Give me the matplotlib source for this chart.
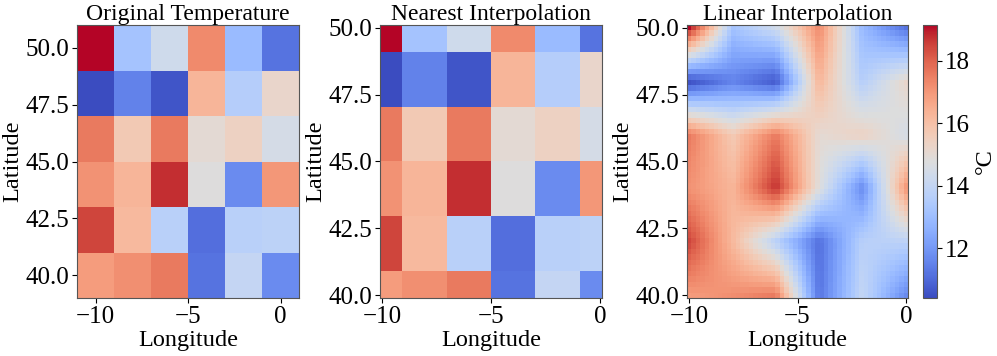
import numpy as np
import matplotlib
matplotlib.use("Agg")
import matplotlib.pyplot as plt

plt.rcParams['font.family'] = ['Liberation Serif', 'DejaVu Serif']

lons = np.array([-10, -8, -6, -4, -2, 0])
lats = np.array([40, 42, 44, 46, 48, 50])
# rows from lat 40 (bottom) to lat 50 (top)
temp_lat40 = [16.9, 17.2, 17.6, 11.2, 14.0, 11.7]
temp_lat42 = [18.5, 16.2, 13.7, 11.1, 13.7, 13.8]
temp_lat44 = [17.1, 16.3, 18.8, 14.8, 11.7, 17.0]
temp_lat46 = [17.6, 15.7, 17.6, 15.0, 15.4, 14.5]
temp_lat48 = [10.4, 11.5, 10.6, 16.3, 13.6, 15.2]
temp_lat50 = [19.15, 13.2, 14.3, 17.3, 12.9, 11.2]
temps = np.array([temp_lat40, temp_lat42, temp_lat44, temp_lat46, temp_lat48, temp_lat50])

titles = ['Original Temperature', 'Nearest Interpolation', 'Linear Interpolation']

n_fine = 50
flon = np.linspace(lons.min(), lons.max(), n_fine)
flat = np.linspace(lats.min(), lats.max(), n_fine)

# nearest
ix = np.abs(flon[:, None] - lons[None, :]).argmin(axis=1)
iy = np.abs(flat[:, None] - lats[None, :]).argmin(axis=1)
nearest = temps[iy][:, ix]

# bilinear
def bilinear(xg, yg, z, xq, yq):
    i = np.clip(np.searchsorted(xg, xq) - 1, 0, len(xg) - 2)
    j = np.clip(np.searchsorted(yg, yq) - 1, 0, len(yg) - 2)
    tx = (xq - xg[i]) / (xg[i + 1] - xg[i])
    ty = (yq - yg[j]) / (yg[j + 1] - yg[j])
    out = np.empty((len(yq), len(xq)))
    for a in range(len(yq)):
        for b in range(len(xq)):
            z00 = z[j[a], i[b]]; z01 = z[j[a], i[b] + 1]
            z10 = z[j[a] + 1, i[b]]; z11 = z[j[a] + 1, i[b] + 1]
            out[a, b] = (z00 * (1 - tx[b]) * (1 - ty[a]) + z01 * tx[b] * (1 - ty[a])
                         + z10 * (1 - tx[b]) * ty[a] + z11 * tx[b] * ty[a])
    return out

linear = bilinear(lons, lats, temps, flon, flat)

vmin, vmax = temps.min(), temps.max()

fig = plt.figure(figsize=(9.97, 3.56), dpi=100)
H = 356.0; W = 997.0
bottom = 1 - 298 / H
height = (298 - 25) / H
ax1 = fig.add_axes([77 / W, bottom, 222 / W, height])
ax2 = fig.add_axes([380 / W, bottom, 222 / W, height])
ax3 = fig.add_axes([687 / W, bottom, 221 / W, height])
cax = fig.add_axes([923 / W, bottom, 14 / W, height])

fs_tick = 18
fs_lab = 17.5
fs_title = 17
ax1.pcolormesh(lons, lats, temps, cmap='coolwarm', vmin=vmin, vmax=vmax, shading='auto')
ax2.pcolormesh(flon, flat, nearest, cmap='coolwarm', vmin=vmin, vmax=vmax, shading='auto')
m = ax3.pcolormesh(flon, flat, linear, cmap='coolwarm', vmin=vmin, vmax=vmax, shading='auto')

for ax, t in zip([ax1, ax2, ax3], titles):
    ax.set_title(t, fontsize=fs_title, pad=3)
    ax.set_xlabel('Longitude', fontsize=fs_lab, labelpad=2)
    ax.set_ylabel('Latitude', fontsize=fs_lab, labelpad=2)
    ax.set_xticks([-10, -5, 0])
    ax.set_yticks([40.0, 42.5, 45.0, 47.5, 50.0])
    ax.tick_params(labelsize=fs_tick, pad=2)
    for s in ax.spines.values():
        s.set_color('#555555')

cb = fig.colorbar(m, cax=cax)
cb.set_label('°C', fontsize=fs_lab)
cb.set_ticks([12, 14, 16, 18])
cb.ax.tick_params(labelsize=fs_tick, pad=2)
cb.outline.set_edgecolor('#555555')

fig.savefig('out.png', dpi=100)
